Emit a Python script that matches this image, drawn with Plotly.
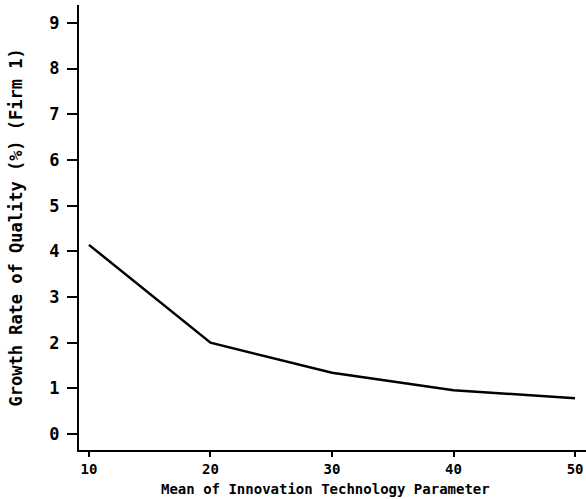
import plotly.graph_objects as go

innovation_mean = [10, 20, 30, 40, 50]
growth_rate = [4.14, 2.0, 1.34, 0.96, 0.78]
x_ticks = [10, 20, 30, 40, 50]
y_ticks = [0, 1, 2, 3, 4, 5, 6, 7, 8, 9]

W, H = 586, 499
ml, mr, mt, mb = 79, 0, 5, 49
pw, ph = W - ml - mr, H - mt - mb

font_fam = "DejaVu Sans Mono"

fig = go.Figure()
fig.add_trace(go.Scatter(x=innovation_mean, y=growth_rate, mode="lines",
                         line=dict(color="black", width=2.5), showlegend=False))

fig.update_layout(
    width=W, height=H,
    margin=dict(l=ml, r=mr, t=mt, b=mb),
    paper_bgcolor="white", plot_bgcolor="white",
    xaxis=dict(range=[9.18, 50.9], tickvals=x_ticks, ticks="outside", ticklen=5,
               tickwidth=2, tickcolor="black", showline=True, linecolor="black",
               linewidth=2, showgrid=False, zeroline=False,
               tickfont=dict(family=font_fam, size=14, color="black", weight="bold")),
    yaxis=dict(range=[-0.35, 9.39], tickvals=y_ticks, ticks="outside", ticklen=10,
               tickwidth=2, tickcolor="black", showline=True, linecolor="black",
               linewidth=2, showgrid=False, zeroline=False, ticklabelstandoff=4,
               tickfont=dict(family=font_fam, size=17, color="black", weight="bold")),
    annotations=[
        dict(text="Mean of Innovation Technology Parameter", xref="paper", yref="paper",
             x=(325 - ml) / pw, y=-(489 - (mt + ph)) / ph, xanchor="center", yanchor="middle",
             showarrow=False, font=dict(family=font_fam, size=14, color="black", weight="bold")),
        dict(text="Growth Rate of Quality (%) (Firm 1)", xref="paper", yref="paper",
             x=(15 - ml) / pw, y=0.5, xanchor="center", yanchor="middle", textangle=-90,
             showarrow=False, font=dict(family=font_fam, size=17, color="black", weight="bold")),
    ],
)

fig.write_html("out.html")
